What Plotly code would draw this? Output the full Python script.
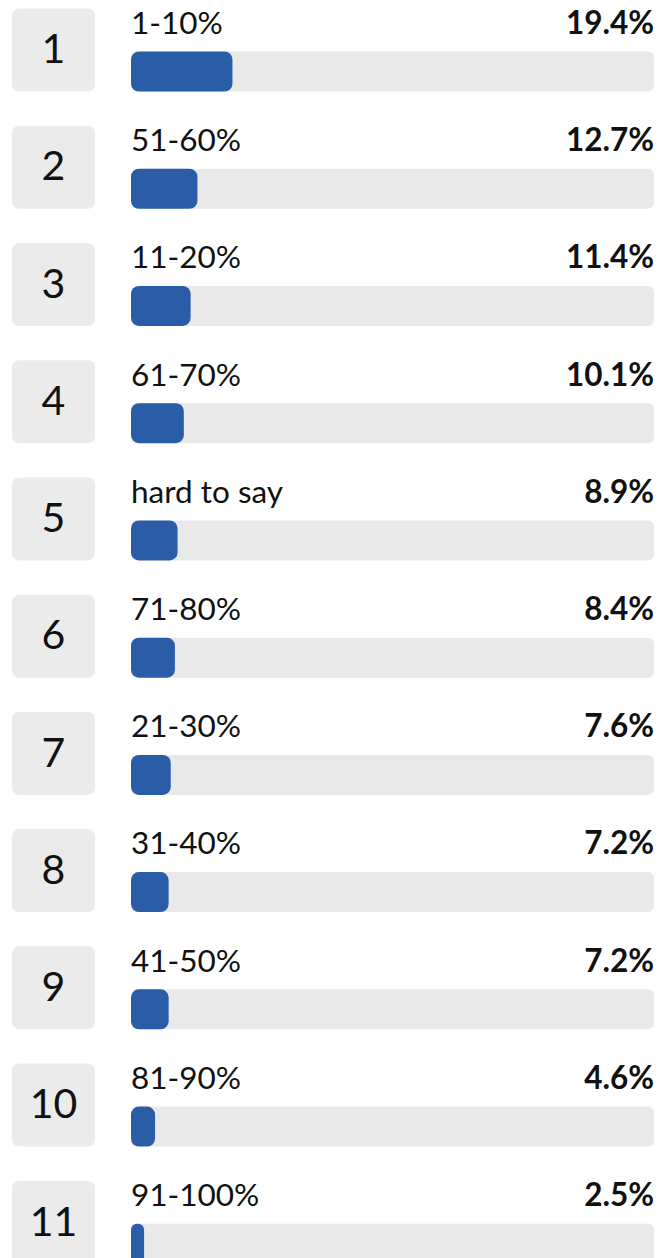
import plotly.graph_objects as go

ranks = ["1", "2", "3", "4", "5", "6", "7", "8", "9", "10", "11"]
labels = ["1-10%", "51-60%", "11-20%", "61-70%", "hard to say", "71-80%",
          "21-30%", "31-40%", "41-50%", "81-90%", "91-100%"]
values = [19.4, 12.7, 11.4, 10.1, 8.9, 8.4, 7.6, 7.2, 7.2, 4.6, 2.5]
value_text = [f"{v:.1f}%" for v in values]

W, H = 671, 1258
PITCH = 117.23
TOP = 8.5
FONT = "Lato, 'Open Sans', sans-serif"

n = len(ranks)
idx = list(range(n))
box_c = [i + 41.5 / PITCH for i in idx]
num_c = [i + 44.5 / PITCH for i in idx]
bar_c = [i + 63.0 / PITCH for i in idx]
lab_c = [i + 17.5 / PITCH for i in idx]

fig = go.Figure()


def rounded_bar(xvals, y, width, color, axis, radius):
    # an explicit base makes plotly round both ends of the bar
    fig.add_trace(go.Bar(
        x=list(xvals), base=[0] * len(xvals), y=y,
        orientation="h", width=width,
        marker=dict(color=color, line=dict(width=0), cornerradius=radius),
        xaxis=axis, yaxis="y", hoverinfo="skip", showlegend=False))


# rank boxes
rounded_bar([1] * n, box_c, 83 / PITCH, "#ebebeb", "x2", 7)
fig.add_trace(go.Scatter(
    x=[0.5] * n, y=num_c, mode="text", text=ranks,
    textposition="middle center",
    textfont=dict(family=FONT, size=41, color="#111111"),
    xaxis="x2", yaxis="y", hoverinfo="skip", showlegend=False))

# track and value bars
rounded_bar([100] * n, bar_c, 40 / PITCH, "#e9e9e9", "x", 6)
rounded_bar(values, bar_c, 40 / PITCH, "#2a5ca8", "x", 8)

# labels
fig.add_trace(go.Scatter(
    x=[0] * n, y=lab_c, mode="text", text=labels,
    textposition="middle right",
    textfont=dict(family=FONT, size=31.5, color="#111111"),
    xaxis="x", yaxis="y", hoverinfo="skip", showlegend=False))
fig.add_trace(go.Scatter(
    x=[100] * n, y=lab_c, mode="text", text=[f"<b>{t}</b>" for t in value_text],
    textposition="middle left",
    textfont=dict(family=FONT, size=31.5, color="#111111"),
    xaxis="x", yaxis="y", hoverinfo="skip", showlegend=False))

fig.update_layout(
    width=W, height=H,
    margin=dict(l=0, r=0, t=0, b=0),
    paper_bgcolor="white", plot_bgcolor="white",
    barmode="overlay",
    showlegend=False,
    xaxis=dict(domain=[131 / W, 654 / W], range=[0, 100], visible=False, fixedrange=True),
    xaxis2=dict(domain=[12 / W, 95 / W], range=[0, 1], visible=False, anchor="y", fixedrange=True),
    yaxis=dict(range=[(H - TOP) / PITCH, -TOP / PITCH], visible=False, fixedrange=True),
)

fig.write_html("out.html", config={"displayModeBar": False})
